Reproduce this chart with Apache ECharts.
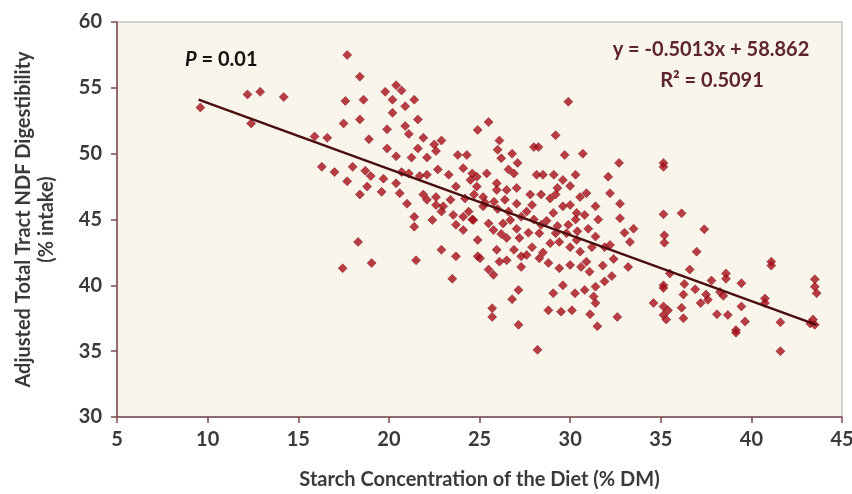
<!DOCTYPE html>
<html>
<head>
<meta charset="utf-8">
<script src="https://cdn.jsdelivr.net/npm/echarts@6/dist/echarts.min.js"></script>
<style>
  html, body { margin: 0; padding: 0; background: #ffffff; }
  #chart { width: 852px; height: 494px; }
</style>
</head>
<body>
<div id="chart"></div>
<script>
// starch (% DM), adjusted NDF digestibility (% intake)
const scatterPoints = [
  [9.6, 53.5], [12.2, 54.5], [12.9, 54.7], [14.2, 54.3], [12.4, 52.3], [15.9, 51.3], [16.6, 51.2],
  [16.3, 49.0], [17.0, 48.6], [17.6, 54.0], [17.5, 52.3], [17.7, 47.9],
  [17.7, 57.5], [18.4, 55.85], [19.8, 54.7], [20.4, 55.2], [20.7, 54.8], [18.6, 54.1], [20.2, 54.1],
  [21.4, 54.1], [20.9, 53.6], [20.2, 53.1], [18.4, 52.6], [21.6, 52.6], [20.9, 52.1], [19.9, 51.85],
  [21.1, 51.5], [18.9, 51.1], [21.9, 51.2], [22.9, 51.0], [22.5, 50.7], [19.9, 50.4], [21.6, 50.4],
  [22.6, 50.2], [20.4, 49.8], [21.25, 49.7], [22.1, 49.7], [23.8, 49.9], [24.3, 49.9], [24.9, 51.8],
  [18.0, 49.0], [18.7, 48.7], [19.0, 48.3], [19.7, 48.1], [20.4, 47.75], [20.7, 48.6], [21.1, 48.5],
  [21.7, 48.3], [22.1, 48.4], [22.7, 48.8], [23.3, 48.4], [24.1, 48.9], [24.6, 48.5], [18.8, 47.5],
  [18.4, 46.9], [19.6, 47.1], [20.6, 47.0], [21.9, 46.9], [22.6, 46.7], [23.7, 47.5], [24.5, 48.0],
  [24.85, 47.5],
  [21.0, 46.2], [22.1, 46.5], [22.6, 46.1], [23.0, 46.0], [21.4, 45.2], [21.4, 44.45], [22.4, 44.96],
  [23.55, 45.35], [24.1, 45.2], [24.6, 45.0], [24.1, 44.2], [24.9, 43.45], [18.3, 43.3], [17.45, 41.3],
  [19.05, 41.7], [21.5, 41.9], [22.9, 42.7], [23.7, 42.2], [23.5, 40.5], [24.9, 42.2],
  [29.9, 53.95], [25.5, 52.4], [29.2, 51.4], [26.1, 51.0], [28.0, 50.5], [28.25, 50.5], [26.8, 50.0],
  [29.7, 49.9], [30.7, 50.0], [26.0, 50.3], [26.2, 49.65], [27.1, 49.3], [32.7, 49.3], [24.85, 48.25],
  [25.4, 48.5], [26.6, 48.8], [26.9, 48.5], [28.15, 48.4], [28.5, 48.4], [29.1, 48.4], [29.6, 48.0],
  [30.3, 48.4], [30.0, 47.55], [32.1, 48.25], [32.2, 47.0], [25.95, 47.75], [25.95, 47.25], [26.5, 47.25],
  [27.05, 47.4], [27.8, 46.9], [28.4, 46.9], [29.2, 46.9], [30.55, 46.7], [30.9, 47.0], [24.7, 46.9],
  [25.2, 46.7],
  [32.75, 46.2], [25.3, 46.3], [25.8, 46.35], [26.4, 46.5], [27.05, 46.2], [27.9, 46.1], [29.07, 45.5],
  [29.6, 46.0], [30.0, 46.1], [30.36, 45.5], [30.8, 45.35], [31.4, 46.0], [31.55, 45.0], [32.75, 45.1],
  [33.5, 44.3], [33.0, 44.0], [33.3, 43.3], [32.2, 43.07], [24.66, 44.96], [25.5, 44.7], [25.77, 44.2],
  [26.3, 44.7], [26.7, 44.96], [27.05, 44.3], [26.5, 43.6], [27.2, 43.6], [25.95, 42.7], [26.9, 42.7],
  [27.9, 42.9], [28.3, 43.96], [28.9, 43.2], [29.4, 43.3], [29.8, 43.96], [29.2, 43.96], [30.36, 43.45],
  [30.55, 42.56], [25.03, 42.06], [26.1, 41.8], [27.3, 42.2], [27.3, 41.4], [28.3, 42.06], [28.8, 41.7],
  [29.4, 41.3], [30.0, 41.55], [30.6, 41.4], [30.9, 41.8], [31.07, 41.04], [25.5, 41.2], [25.77, 40.8],
  [29.6, 40.0], [30.8, 39.65], [31.4, 39.9], [31.9, 40.3], [32.3, 40.7], [27.15, 39.65], [26.8, 38.95],
  [29.07, 39.4], [30.27, 39.4], [31.3, 39.15], [31.4, 38.65], [34.6, 38.65], [25.7, 38.26], [25.7, 37.6],
  [28.8, 38.1], [29.5, 38.0], [30.1, 38.1], [31.1, 37.8], [32.6, 37.6], [27.15, 37.0], [31.5, 36.9],
  [28.2, 35.1],
  [35.15, 45.4], [36.15, 45.47], [37.4, 44.26], [35.2, 43.8], [35.2, 43.24], [36.98, 42.56], [41.1, 41.8],
  [41.1, 41.5], [36.6, 41.2], [38.6, 40.9], [38.6, 40.5], [35.5, 40.9], [35.15, 40.0], [35.15, 39.8],
  [36.3, 40.1], [37.8, 40.36], [39.45, 40.16], [43.5, 40.46], [43.5, 39.9], [43.6, 39.4], [36.25, 39.3],
  [36.9, 39.7], [37.5, 39.3], [38.27, 39.5], [38.45, 39.2], [37.2, 38.65], [37.6, 38.9], [39.45, 38.4],
  [40.75, 39.0], [40.75, 38.65], [35.15, 38.4], [35.4, 38.1], [35.15, 37.75], [35.3, 37.4], [36.15, 38.3],
  [36.25, 37.5], [38.1, 37.8], [38.7, 37.75], [39.65, 37.25], [39.15, 36.6], [39.15, 36.4], [41.6, 37.2],
  [41.6, 35.0], [43.25, 37.1], [43.5, 37.0], [43.4, 37.4], [35.15, 49.3], [35.15, 49.0],
  [25.2, 46.0], [26.0, 45.8], [26.6, 45.6], [27.3, 45.2], [27.6, 45.6], [28.0, 45.0], [28.4, 44.6],
  [28.7, 44.9], [29.3, 44.5], [29.9, 44.6], [30.4, 44.1], [31.0, 44.3], [31.4, 43.7], [31.9, 42.9],
  [27.7, 44.0], [26.2, 43.9], [24.2, 46.6], [23.4, 46.5], [23.7, 44.6], [24.4, 45.6], [22.9, 45.6],
  [28.9, 46.6], [29.3, 47.4], [30.3, 45.0], [31.2, 42.9], [30.0, 42.9], [28.5, 42.5], [27.6, 42.3],
  [26.5, 41.9], [31.8, 41.5], [32.4, 42.0], [33.2, 41.4]
];

// linear trend line end points (y = -0.5013x + 58.862)
const trendX = [9.5, 43.6];
const trendY = [54.1, 37.0];

const xRange = [5, 45];
const yRange = [30, 60];

const equationText = 'y = -0.5013x + 58.862';
const rSquaredText = 'R\u00B2 = 0.5091';

const chart = echarts.init(document.getElementById('chart'));

const labelFont = 'Lato, "Open Sans", sans-serif';
const axisColor = '#7e4a50';
const textColor = '#3a3a3a';

const option = {
  animation: false,
  backgroundColor: '#ffffff',
  grid: {
    left: 117, right: 10, top: 22, bottom: 77,
    outerBoundsMode: 'none',
    containLabel: false,
    show: true,
    backgroundColor: '#faf5ea',
    borderColor: '#a8a8a8',
    borderWidth: 1
  },
  xAxis: {
    type: 'value',
    min: xRange[0], max: xRange[1], interval: 5,
    name: 'Starch Concentration of the Diet (% DM)',
    nameLocation: 'middle',
    nameGap: 53,
    nameTextStyle: { fontFamily: labelFont, fontWeight: 'bold', fontSize: 20, color: textColor },
    axisLine: { lineStyle: { color: axisColor, width: 1.5 } },
    axisTick: { length: 6, lineStyle: { color: axisColor, width: 1.5 } },
    axisLabel: { fontFamily: labelFont, fontWeight: 'bold', fontSize: 20, color: textColor, margin: 13 },
    splitLine: { show: false }
  },
  yAxis: {
    type: 'value',
    min: yRange[0], max: yRange[1], interval: 5,
    name: 'Adjusted Total Tract NDF Digestibility\n(% intake)',
    nameLocation: 'middle',
    nameRotate: 90,
    nameGap: 59,
    nameTextStyle: { fontFamily: labelFont, fontWeight: 'bold', fontSize: 20, color: textColor, lineHeight: 23 },
    axisLine: { show: true, lineStyle: { color: axisColor, width: 1.5 } },
    axisTick: { show: true, length: 6, lineStyle: { color: axisColor, width: 1.5 } },
    axisLabel: { fontFamily: labelFont, fontWeight: 'bold', fontSize: 20, color: textColor, margin: 15 },
    splitLine: { show: false }
  },
  series: [
    {
      name: 'Diets',
      type: 'scatter',
      symbol: 'diamond',
      symbolSize: 9,
      data: scatterPoints,
      itemStyle: { color: '#a80e18', borderColor: '#7a0b12', borderWidth: 0.6 },
      z: 2
    },
    {
      name: 'Trend',
      type: 'line',
      data: trendX.map((x, i) => [x, trendY[i]]),
      symbol: 'none',
      lineStyle: { color: '#4a0e10', width: 2.5 },
      z: 3
    }
  ],
  graphic: [
    {
      type: 'text', x: 185, y: 60,
      style: {
        text: '{i|P} = 0.01', verticalAlign: 'middle',
        rich: { i: { fontStyle: 'italic', fontWeight: 'bold', fontSize: 20, fontFamily: labelFont, fill: '#111' } },
        fontFamily: labelFont, fontWeight: 'bold', fontSize: 20, fill: '#111'
      }
    },
    {
      type: 'text', x: 711, y: 50,
      style: {
        text: equationText, align: 'center', verticalAlign: 'middle',
        fontFamily: labelFont, fontWeight: 'bold', fontSize: 20, fill: '#5e2330'
      }
    },
    {
      type: 'text', x: 712, y: 81,
      style: {
        text: rSquaredText, align: 'center', verticalAlign: 'middle',
        fontFamily: labelFont, fontWeight: 'bold', fontSize: 20, fill: '#5e2330'
      }
    }
  ]
};

chart.setOption(option);
</script>
</body>
</html>
